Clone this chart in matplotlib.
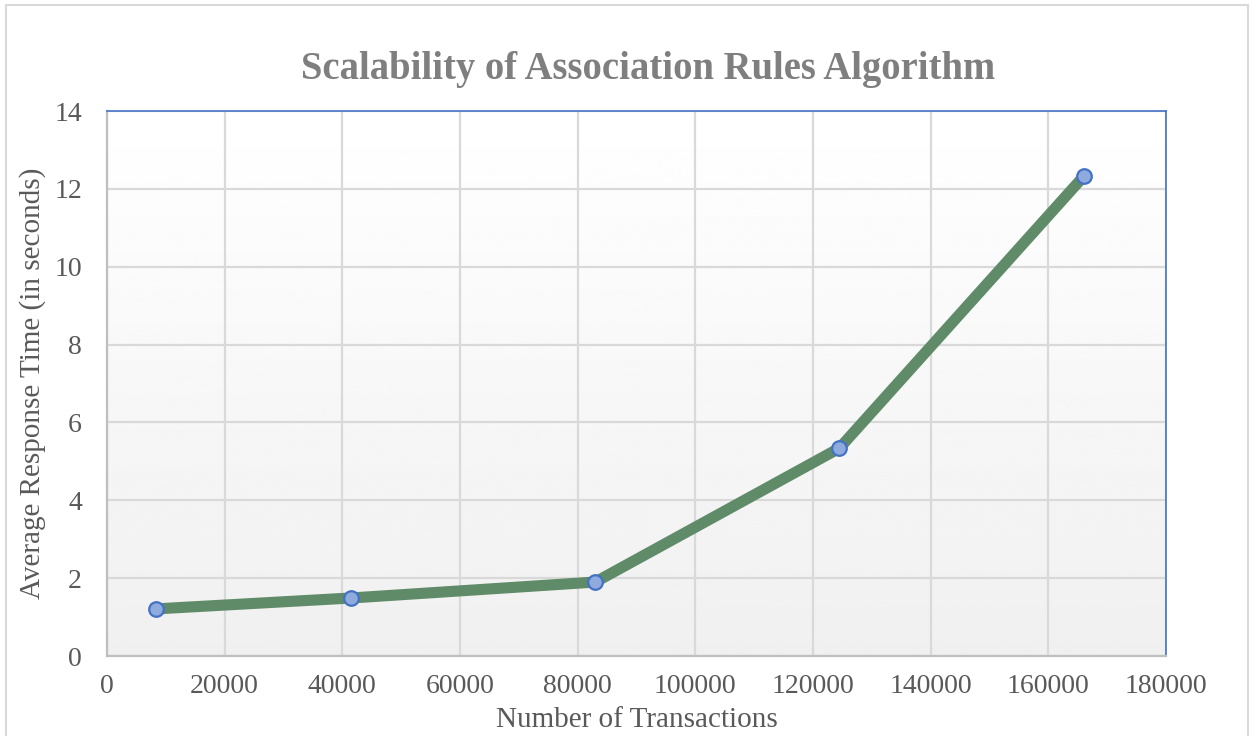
import matplotlib
matplotlib.use("Agg")
import matplotlib.pyplot as plt
import numpy as np
from matplotlib.patches import Rectangle

transactions = [8300, 41500, 83000, 124500, 166000]
response_time = [1.21, 1.49, 1.90, 5.34, 12.32]
x_ticks = [0, 20000, 40000, 60000, 80000, 100000, 120000, 140000, 160000, 180000]
y_ticks = [0, 2, 4, 6, 8, 10, 12, 14]

plt.rcParams['font.family'] = ['Liberation Serif', 'DejaVu Serif']

fig = plt.figure(figsize=(12.53, 7.36), dpi=100)
ax = fig.add_axes([107/1253, 80/736, (1166-107)/1253, (656-111)/736])

# figure border
fig.patches.append(Rectangle((6/1253, -0.05), (1248-6)/1253, (731/736) + 0.05,
                             transform=fig.transFigure, fill=False,
                             edgecolor='#d9d9d9', linewidth=1.5))

# gradient background
grad = np.linspace(0.94, 1.0, 256).reshape(-1, 1)
ax.imshow(grad, extent=[0, 180000, 0, 14], aspect='auto', cmap='gray',
          vmin=0, vmax=1, origin='lower', zorder=0)

ax.set_xlim(0, 180000)
ax.set_ylim(0, 14)
ax.set_xticks(x_ticks)
ax.set_yticks(y_ticks)
ax.set_xticklabels([str(v) for v in x_ticks])
ax.set_yticklabels([str(v) for v in y_ticks])
ax.grid(True, color='#d9d9d9', linewidth=1.6, zorder=1)
ax.set_axisbelow(True)

ax.plot(transactions, response_time, color='#5f8b69', linewidth=8,
        solid_joinstyle='miter', zorder=3)
ax.plot(transactions, response_time, linestyle='none', marker='o',
        markersize=10.5, markerfacecolor='#8faadc', markeredgecolor='#4472c4',
        markeredgewidth=1.6, zorder=4)

for s in ['top', 'right']:
    ax.spines[s].set_color('#4472c4')
    ax.spines[s].set_linewidth(1.2)
for s in ['left', 'bottom']:
    ax.spines[s].set_color('#bfbfbf')
    ax.spines[s].set_linewidth(1.6)

ax.tick_params(axis='both', length=0, labelsize=20, labelcolor='#595959')
ax.tick_params(axis='x', pad=13)
ax.tick_params(axis='y', pad=18)

ax.set_xlabel('Number of Transactions', fontsize=21, color='#595959', labelpad=6)
ax.set_ylabel('Average Response Time (in seconds)', fontsize=21, color='#595959', labelpad=6)

fig.text(648/1253, 1 - 70/736, 'Scalability of Association Rules Algorithm',
         ha='center', va='center', fontsize=27.8, fontweight='bold', color='#7f7f7f')

fig.savefig('out.png', dpi=100)
